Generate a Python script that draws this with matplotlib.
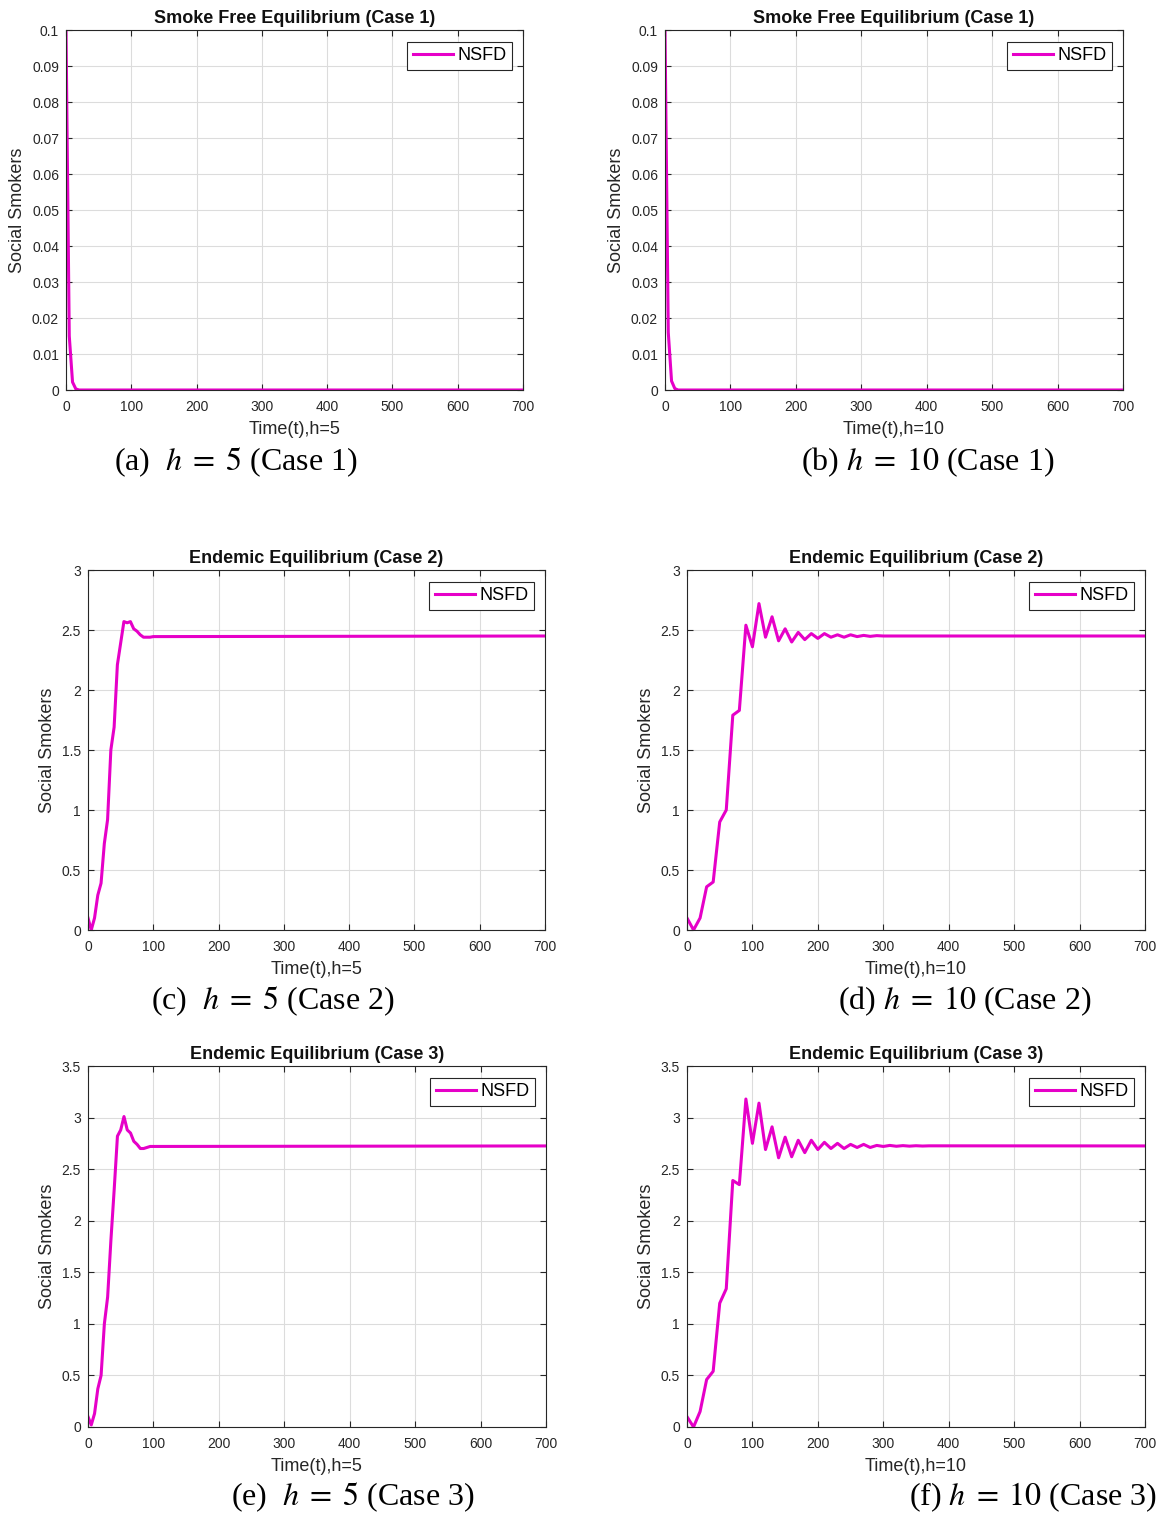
import numpy as np
import matplotlib
matplotlib.use('Agg')
import matplotlib.pyplot as plt
from matplotlib.ticker import FormatStrFormatter, MultipleLocator

plt.rcParams['font.family'] = ['Liberation Sans', 'DejaVu Sans']
plt.rcParams['mathtext.fontset'] = 'stix'

# Case 1 (smoke free equilibrium), sampled every 5 time units, flat at zero afterwards
case1_h5 = [0.1, 0.015, 0.0022, 0.0003, 0.0, 0.0]
case1_h10 = [0.1, 0.016, 0.0025, 0.0004, 0.0, 0.0]

# Case 2 (endemic equilibrium)
case2_h5 = [0.10, 0.0, 0.10, 0.29, 0.39, 0.72, 0.92, 1.50, 1.69, 2.21, 2.39,
            2.57, 2.56, 2.57, 2.51, 2.49, 2.46, 2.44, 2.44, 2.44, 2.445]
case2_h10 = [0.10, 0.0, 0.10, 0.36, 0.40, 0.90, 1.00, 1.79, 1.83, 2.54, 2.36,
             2.72, 2.44, 2.61, 2.41, 2.51, 2.40, 2.48, 2.42, 2.47, 2.43,
             2.47, 2.44, 2.46, 2.44, 2.46, 2.445, 2.455, 2.447, 2.453, 2.45]
case2_steady = 2.45

# Case 3 (endemic equilibrium)
case3_h5 = [0.10, 0.02, 0.13, 0.37, 0.50, 1.00, 1.26, 1.81, 2.30, 2.82, 2.88,
            3.01, 2.88, 2.85, 2.77, 2.74, 2.70, 2.70, 2.71, 2.72, 2.72]
case3_h10 = [0.10, 0.0, 0.15, 0.46, 0.54, 1.20, 1.34, 2.39, 2.35, 3.18, 2.75,
             3.14, 2.69, 2.91, 2.61, 2.81, 2.62, 2.78, 2.66, 2.78, 2.69,
             2.76, 2.70, 2.75, 2.70, 2.74, 2.71, 2.74, 2.71, 2.73, 2.72,
             2.73, 2.722, 2.728, 2.723, 2.727, 2.724, 2.726]
case3_steady = 2.725

t_end = 700
line_color = '#E600C8'
W, H = 1169, 1516

panels = [
    # (pixel box l, r, t, b), values, step, steady, title, xlabel, ymax, ystep, caption, caption xy
    ((66, 523, 30, 390), case1_h5, 5, 0.0, 'Smoke Free Equilibrium (Case 1)', 'Time(t),h=5',
     0.1, 0.01, r'(a)  $h\;=\;5$ (Case 1)', (236, 462)),
    ((665, 1123, 30, 390), case1_h10, 5, 0.0, 'Smoke Free Equilibrium (Case 1)', 'Time(t),h=10',
     0.1, 0.01, r'(b) $h\;=\;10$ (Case 1)', (928, 462)),
    ((88, 545, 570, 930), case2_h5, 5, case2_steady, 'Endemic Equilibrium (Case 2)', 'Time(t),h=5',
     3, 0.5, r'(c)  $h\;=\;5$ (Case 2)', (273, 1001)),
    ((687, 1145, 570, 930), case2_h10, 10, case2_steady, 'Endemic Equilibrium (Case 2)', 'Time(t),h=10',
     3, 0.5, r'(d) $h\;=\;10$ (Case 2)', (965, 1001)),
    ((88, 546, 1066, 1427), case3_h5, 5, case3_steady, 'Endemic Equilibrium (Case 3)', 'Time(t),h=5',
     3.5, 0.5, r'(e)  $h\;=\;5$ (Case 3)', (353, 1497)),
    ((687, 1145, 1066, 1427), case3_h10, 10, case3_steady, 'Endemic Equilibrium (Case 3)', 'Time(t),h=10',
     3.5, 0.5, r'(f) $h\;=\;10$ (Case 3)', (1033, 1497)),
]

fig = plt.figure(figsize=(W / 100, H / 100), dpi=100)

for box, vals, step, steady, title, xlabel, ymax, ystep, caption, cxy in panels:
    l, r, t, b = box
    ax = fig.add_axes([l / W, 1 - b / H, (r - l) / W, (b - t) / H])
    times = list(np.arange(len(vals)) * step) + [t_end]
    series = list(vals) + [steady]
    ax.plot(times, series, color=line_color, lw=2.2, label='NSFD')

    ax.set_xlim(0, 700)
    ax.set_ylim(0, ymax)
    ax.xaxis.set_major_locator(MultipleLocator(100))
    ax.yaxis.set_major_locator(MultipleLocator(ystep))
    ax.yaxis.set_major_formatter(FormatStrFormatter('%g'))
    ax.grid(True, color='#dcdcdc', lw=0.8)
    ax.set_axisbelow(True)
    ax.tick_params(direction='in', length=4, width=0.8, colors='#262626',
                   labelsize=10, top=True, right=True, pad=7)
    ax.tick_params(axis='y', pad=5)
    for s in ax.spines.values():
        s.set_color('#262626')
        s.set_linewidth(0.8)

    ax.set_title(title, fontsize=13, fontweight='bold', pad=5, color='#111111')
    ax.set_xlabel(xlabel, fontsize=13, labelpad=5, color='#262626')
    ax.set_ylabel('Social Smokers', fontsize=13, labelpad=4, color='#262626')

    leg = ax.legend(loc='upper right', bbox_to_anchor=(0.977, 0.967), fontsize=13,
                    fancybox=False, framealpha=1, edgecolor='#262626',
                    handlelength=2.2, handletextpad=0.3, borderpad=0.3,
                    borderaxespad=0)
    leg.get_frame().set_linewidth(0.8)

    fig.text(cxy[0] / W, 1 - cxy[1] / H, caption, ha='center', va='center',
             fontsize=23, family=['Liberation Serif', 'DejaVu Serif'])

fig.savefig('out.png', dpi=100)
